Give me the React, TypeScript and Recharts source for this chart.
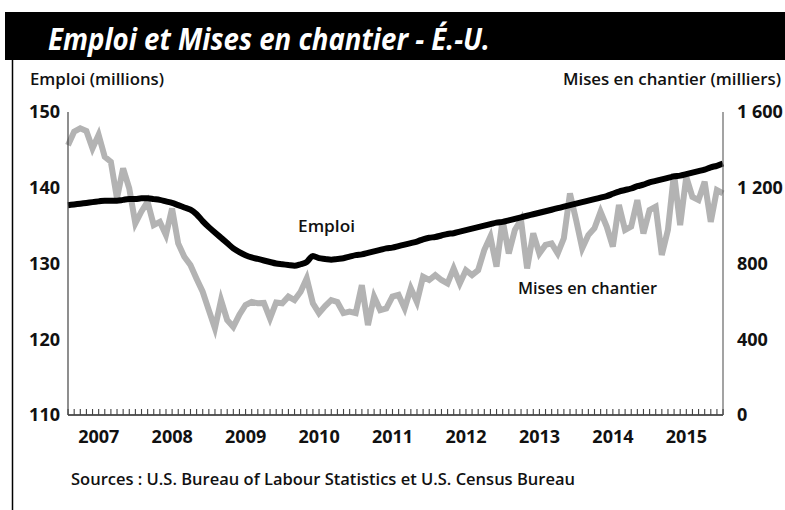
import React from "react";
import { Line, LineChart, XAxis, YAxis } from "recharts";

// Emploi (millions) et mises en chantier (milliers, taux annuel), mensuel janv. 2007 - déc. 2015
const YEARS = [2007, 2008, 2009, 2010, 2011, 2012, 2013, 2014, 2015];

const EMPLOI = [
  137.7, 137.8, 137.9, 138.0, 138.1, 138.2, 138.3, 138.3, 138.3, 138.4, 138.5, 138.5,
  138.6, 138.6, 138.5, 138.4, 138.2, 138.0, 137.7, 137.4, 137.1, 136.5, 135.6, 134.8,
  134.1, 133.4, 132.7, 132.0, 131.5, 131.1, 130.8, 130.6, 130.4, 130.2, 130.0, 129.9,
  129.8, 129.7, 129.9, 130.2, 131.0, 130.7, 130.6, 130.5, 130.6, 130.7, 130.9, 131.1,
  131.2, 131.4, 131.6, 131.8, 132.0, 132.1, 132.3, 132.5, 132.7, 132.9, 133.2, 133.4,
  133.5, 133.7, 133.9, 134.0, 134.2, 134.4, 134.6, 134.8, 135.0, 135.2, 135.4, 135.5,
  135.7, 135.9, 136.1, 136.3, 136.5, 136.7, 136.9, 137.1, 137.3, 137.5, 137.7, 137.9,
  138.1, 138.3, 138.5, 138.7, 138.9, 139.2, 139.5, 139.7, 139.9, 140.2, 140.4, 140.7,
  140.9, 141.1, 141.3, 141.5, 141.6, 141.8, 142.0, 142.2, 142.4, 142.7, 142.9, 143.2,
];

const MISES = [
  1425, 1496, 1514, 1500, 1408, 1480, 1364, 1337, 1144, 1302, 1197, 1012,
  1075, 1126, 1003, 1020, 950, 1091, 906, 836, 792, 720, 651, 554,
  458, 607, 502, 465, 530, 581, 597, 590, 592, 510, 594, 590,
  625, 607, 651, 722, 590, 538, 575, 607, 597, 538, 546, 538,
  686, 475, 625, 554, 563, 625, 634, 563, 669, 597, 730, 713,
  739, 713, 695, 774, 695, 765, 739, 765, 871, 942, 783, 1030,
  853, 977, 1030, 774, 959, 853, 898, 906, 853, 933, 1170, 1030,
  880, 950, 986, 1073, 995, 889, 1109, 977, 995, 1135, 959, 1082,
  1100, 845, 977, 1276, 1003, 1258, 1152, 1135, 1232, 1020, 1188, 1170,
];

const LEFT_TICKS = [110, 120, 130, 140, 150];
const RIGHT_TICKS = [0, 400, 800, 1200, 1600];

const data = EMPLOI.map((e, i) => ({
  mois: i,
  emploi: e,
  mises: MISES[i],
}));

const FONT = "'Open Sans', 'DejaVu Sans', sans-serif";

// graduation mensuelle (vers le haut) + année sous juillet
function MonthTick(props: any) {
  const { x, y, payload } = props;
  const i = payload.value as number;
  return (
    <g>
      <rect x={x - 0.5} y={y - 6} width={1.1} height={6} fill="#444" />
      {i % 12 === 6 && (
        <text
          x={x - 6}
          y={y + 28}
          textAnchor="middle"
          fontFamily={FONT}
          fontWeight={700}
          fontSize={18}
          fill="#111"
        >
          {YEARS[Math.floor(i / 12)]}
        </text>
      )}
    </g>
  );
}

const fmtRight = (v: number) =>
  v >= 1000 ? `${Math.floor(v / 1000)} ${String(v % 1000).padStart(3, "0")}` : String(v);

export default function App() {
  return (
    <div style={{ position: "absolute", left: 0, top: 0, width: 785, height: 510, background: "#fff", overflow: "hidden" }}>
      <LineChart
        width={785}
        height={510}
        data={data}
        margin={{ top: 112, right: 2, bottom: 0, left: 8 }}
      >
        <XAxis
          dataKey="mois"
          height={95}
          interval={0}
          tickSize={0}
          tickMargin={0}
          tick={<MonthTick />}
          axisLine={{ stroke: "#222", strokeWidth: 1.5 }}
          tickLine={false}
        />
        <YAxis
          yAxisId="left"
          width={60}
          domain={[110, 150]}
          ticks={LEFT_TICKS}
          tickSize={0}
          tickMargin={8}
          axisLine={{ stroke: "#444", strokeWidth: 1.2 }}
          tick={{ fontFamily: FONT, fontWeight: 700, fontSize: 18, fill: "#111" }}
        />
        <YAxis
          yAxisId="right"
          orientation="right"
          width={60}
          domain={[0, 1600]}
          ticks={RIGHT_TICKS}
          tickSize={0}
          tickMargin={14}
          tickFormatter={fmtRight}
          axisLine={{ stroke: "#666", strokeWidth: 1.2 }}
          tick={{ fontFamily: FONT, fontWeight: 700, fontSize: 18, fill: "#111", textAnchor: "start" }}
        />
        <Line
          yAxisId="right"
          type="linear"
          dataKey="mises"
          stroke="#b3b3b3"
          strokeWidth={6}
          dot={false}
          isAnimationActive={false}
        />
        <Line
          yAxisId="left"
          type="monotone"
          dataKey="emploi"
          stroke="#000"
          strokeWidth={6}
          dot={false}
          isAnimationActive={false}
        />
      </LineChart>
      <svg
        width={785}
        height={510}
        style={{ position: "absolute", left: 0, top: 0, pointerEvents: "none" }}
      >
        <rect x={5} y={12} width={780} height={48} fill="#000" />
        <line x1={12.5} y1={60} x2={12.5} y2={510} stroke="#000" strokeWidth={1.5} />
        <text
          x={48}
          y={50}
          fill="#fff"
          fontFamily={FONT}
          fontWeight={700}
          fontStyle="italic"
          fontSize={30}
          textLength={442}
          lengthAdjust="spacingAndGlyphs"
        >
          Emploi et Mises en chantier - É.-U.
        </text>
        <text x={30} y={85} fontFamily={FONT} fontWeight={600} fontSize={17} fill="#111" textLength={134} lengthAdjust="spacingAndGlyphs">
          Emploi (millions)
        </text>
        <text x={563} y={85} fontFamily={FONT} fontWeight={600} fontSize={17} fill="#111" textLength={218} lengthAdjust="spacingAndGlyphs">
          Mises en chantier (milliers)
        </text>
        <text x={298} y={232} fontFamily={FONT} fontWeight={600} fontSize={17} fill="#111" textLength={57} lengthAdjust="spacingAndGlyphs">
          Emploi
        </text>
        <text x={518} y={294} fontFamily={FONT} fontWeight={600} fontSize={17} fill="#111" textLength={139} lengthAdjust="spacingAndGlyphs">
          Mises en chantier
        </text>
        <text x={71} y={485} fontFamily={FONT} fontWeight={600} fontSize={17} fill="#111" textLength={504} lengthAdjust="spacingAndGlyphs">
          Sources : U.S. Bureau of Labour Statistics et U.S. Census Bureau
        </text>
      </svg>
    </div>
  );
}
